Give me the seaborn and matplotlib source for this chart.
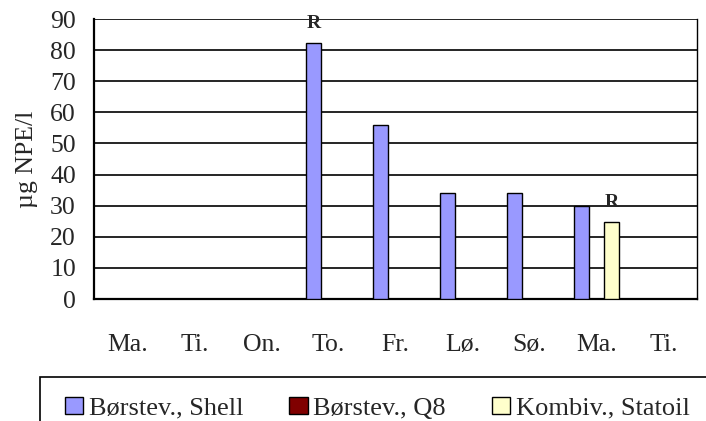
import numpy as np
import pandas as pd
import matplotlib
matplotlib.use("Agg")
import matplotlib.pyplot as plt
from matplotlib.patches import Patch, Rectangle
import seaborn as sns

# ---- data ----
day_labels = ["Ma.", "Ti.", "On.", "To.", "Fr.", "Lø.", "Sø.", "Ma.", "Ti."]
series_names = ["Børstev., Shell", "Børstev., Q8", "Kombiv., Statoil"]
shell_values = [np.nan, np.nan, np.nan, 82.3, 56.0, 34.0, 34.0, 30.0, np.nan]
q8_values = [np.nan] * 9
statoil_values = [np.nan, np.nan, np.nan, np.nan, np.nan, np.nan, np.nan, 24.6, np.nan]
series_colors = ["#9999FF", "#800000", "#FFFFCC"]
# "R" markers: (day index, series name)
r_marks = [(3, "Børstev., Shell"), (7, "Kombiv., Statoil")]
y_ticks = list(range(0, 91, 10))

rows = []
for name, vals in zip(series_names, [shell_values, q8_values, statoil_values]):
    for i, v in enumerate(vals):
        rows.append({"day": i, "series": name, "value": 0.0 if np.isnan(v) else v})
df = pd.DataFrame(rows)

sns.set_style("white")
plt.rcParams["font.family"] = ["Liberation Serif", "DejaVu Serif"]

FS = 18.5
LFS = 19.0

fig = plt.figure(figsize=(7.06, 4.21), dpi=100)
ax = fig.add_axes([94 / 706, 1 - 299 / 421, (697 - 94) / 706, (299 - 19) / 421])

palette = dict(zip(series_names, series_colors))
sns.barplot(data=df, x="day", y="value", hue="series", hue_order=series_names,
            order=list(range(9)), palette=palette, width=0.66, errorbar=None,
            edgecolor="black", linewidth=1.0, saturation=1, legend=False, ax=ax, zorder=3)

# hide placeholder bars for missing values
for p in ax.patches:
    if p.get_height() == 0:
        p.set_visible(False)

ax.set_ylim(0, 90)
ax.set_xlim(-0.5, 8.5)
ax.set_yticks(y_ticks)
ax.yaxis.grid(True, color="black", linewidth=1.2, zorder=0)
ax.set_axisbelow(True)
ax.set_xticks(range(9))
ax.set_xticklabels(day_labels)
ax.set_xticks(np.arange(-0.5, 9.0, 1.0), minor=True)
ax.tick_params(axis="x", which="major", length=0, pad=25, labelsize=FS)
ax.tick_params(axis="x", which="minor", length=4.5, width=1.4, direction="out", color="black")
ax.tick_params(axis="y", length=6, width=1.4, direction="out", pad=7, labelsize=FS, color="black")
ax.set_xlabel("")
ax.set_ylabel("µg NPE/l", fontsize=FS, labelpad=9)

for side in ["left", "bottom"]:
    ax.spines[side].set_visible(True)
    ax.spines[side].set_color("black")
    ax.spines[side].set_linewidth(1.6)
ax.spines["right"].set_visible(True)
ax.spines["right"].set_color("black")
ax.spines["right"].set_linewidth(1.0)
ax.spines["top"].set_visible(False)

# R labels above the corresponding bars
n = len(series_names)
bw = 0.66 / n
for day_idx, sname in r_marks:
    k = series_names.index(sname)
    xpos = day_idx - 0.33 + bw * (k + 0.5)
    val = df[(df.day == day_idx) & (df.series == sname)]["value"].iloc[0]
    ax.annotate("R", (xpos, val), xytext=(0, 11), textcoords="offset points",
                ha="center", va="baseline", fontsize=14, fontweight="bold")

# legend
handles = [Patch(facecolor=c, edgecolor="black", linewidth=1.0) for c in series_colors]
fig.legend(handles, series_names, loc="upper left",
           bbox_to_anchor=(65 / 706, 1 - 397 / 421), ncol=3, frameon=False,
           fontsize=LFS, handlelength=0.7, handleheight=0.6, handletextpad=0.2,
           columnspacing=1.75, borderpad=0, borderaxespad=0)
fig.patches.append(Rectangle((40 / 706, -0.1), 1.0, (421 - 377) / 421 + 0.1,
                             transform=fig.transFigure, fill=False,
                             edgecolor="black", linewidth=1.2))

fig.savefig("out.png", dpi=100)
